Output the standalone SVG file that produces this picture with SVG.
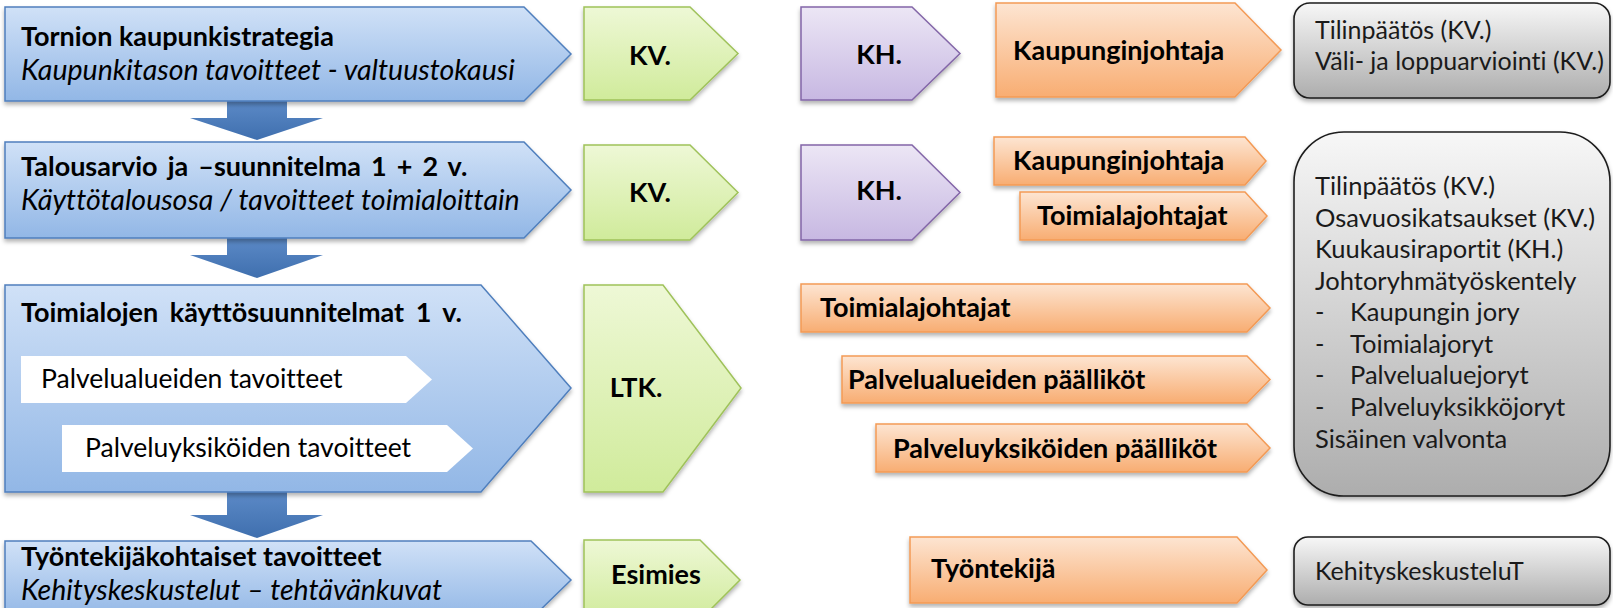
<svg xmlns="http://www.w3.org/2000/svg" width="1613" height="608" viewBox="0 0 1613 608">
<style>
text{font-family:Lato,"Liberation Sans",sans-serif;fill:#000;font-variant-ligatures:none;font-feature-settings:"liga" 0}
.b{font-weight:700;font-size:27px}
.i{font-style:italic;font-size:28.5px}
.r{font-size:26.5px}
.g{font-size:25px;fill:#1a1a1a}
.g2{font-size:25.5px;fill:#1a1a1a}
.blue{fill:url(#gBlue);stroke:#4f7fbd;stroke-width:1.5}
.green{fill:url(#gGreen);stroke:#9fc25a;stroke-width:1.5}
.purple{fill:url(#gPurple);stroke:#8366a8;stroke-width:1.5}
.orange{fill:url(#gOrange);stroke:#f39a55;stroke-width:1.5}
.gray{fill:url(#gGray);stroke:#1e1e1e;stroke-width:1.6}
.white{fill:#fff}
.down{fill:url(#gDown)}
.sh{filter:url(#shadow)}
</style>
<defs>
<linearGradient id="gBlue" x1="0" y1="0" x2="0" y2="1"><stop offset="0" stop-color="#d0e1f7"/><stop offset="1" stop-color="#92b7e6"/></linearGradient>
<linearGradient id="gGreen" x1="0" y1="0" x2="0" y2="1"><stop offset="0" stop-color="#eef8d6"/><stop offset="1" stop-color="#d0eb9b"/></linearGradient>
<linearGradient id="gPurple" x1="0" y1="0" x2="0" y2="1"><stop offset="0" stop-color="#ece6f5"/><stop offset="1" stop-color="#c7b8e2"/></linearGradient>
<linearGradient id="gOrange" x1="0" y1="0" x2="0" y2="1"><stop offset="0" stop-color="#fde5d2"/><stop offset="1" stop-color="#f8ad72"/></linearGradient>
<linearGradient id="gGray" x1="0" y1="0" x2="0" y2="1"><stop offset="0" stop-color="#f7f7f7"/><stop offset="1" stop-color="#adadad"/></linearGradient>
<linearGradient id="gDown" x1="0" y1="0" x2="0" y2="1"><stop offset="0" stop-color="#5d8bc8"/><stop offset="1" stop-color="#3f6fae"/></linearGradient>
<filter id="shadow" x="-5%" y="-10%" width="110%" height="130%"><feDropShadow dx="0" dy="3" stdDeviation="2" flood-color="#000" flood-opacity="0.3"/></filter>
</defs>

<g id="connectors">
<path class="down" d="M227,99 H287 V118 H323 L257,140 L190,118 H227 Z"/>
<path class="down" d="M227,236 H287 V255 H323 L257,278 L190,255 H227 Z"/>
<path class="down" d="M227,490 H287 V515 H323 L257,538 L190,515 H227 Z"/>
</g>

<g id="blue1">
<path class="blue sh" d="M5,7 H524 L571,54 L524,101 H5 Z"/>
<text class="b" x="21" y="46">Tornion kaupunkistrategia</text>
<text class="i" x="21" y="80">Kaupunkitason tavoitteet - valtuustokausi</text>
</g>
<g id="blue2">
<path class="blue sh" d="M5,142 H524 L571,190 L524,238 H5 Z"/>
<text class="b" x="21" y="176" word-spacing="3.5">Talousarvio ja –suunnitelma 1 + 2 v.</text>
<text class="i" x="21" y="210">Käyttötalousosa / tavoitteet toimialoittain</text>
</g>
<g id="blue3">
<path class="blue sh" d="M5,285 H481 L571,388 L481,492 H5 Z"/>
<text class="b" x="21" y="322" word-spacing="5">Toimialojen käyttösuunnitelmat 1 v.</text>
</g>
<g id="white1">
<path class="white" d="M21,356 H406 L432,379.5 L406,403 H21 Z"/>
<text class="r" x="41" y="388">Palvelualueiden tavoitteet</text>
</g>
<g id="white2">
<path class="white" d="M62,425 H447 L473,448.5 L447,472 H62 Z"/>
<text class="r" x="85" y="457">Palveluyksiköiden tavoitteet</text>
</g>
<g id="blue4">
<path class="blue sh" d="M5,541 H531 L571,580 L531,619 H5 Z"/>
<text class="b" x="21" y="566">Työntekijäkohtaiset tavoitteet</text>
<text class="i" x="21" y="600">Kehityskeskustelut – tehtävänkuvat</text>
</g>

<g id="green1">
<path class="green sh" d="M584,7 H690 L738,53.5 L690,100 H584 Z"/>
<text class="b" x="650" y="65" text-anchor="middle">KV.</text>
</g>
<g id="green2">
<path class="green sh" d="M584,145 H690 L738,192.5 L690,240 H584 Z"/>
<text class="b" x="650" y="202" text-anchor="middle">KV.</text>
</g>
<g id="green3">
<path class="green sh" d="M584,285 H663 L741,388 L663,492 H584 Z"/>
<text class="b" x="636" y="397" text-anchor="middle">LTK.</text>
</g>
<g id="green4">
<path class="green sh" d="M584,540 H700 L740,580 L700,620 H584 Z"/>
<text class="b" x="656" y="584" text-anchor="middle">Esimies</text>
</g>

<g id="purple1">
<path class="purple sh" d="M801,7 H912 L960,53.5 L912,100 H801 Z"/>
<text class="b" x="879" y="64" text-anchor="middle">KH.</text>
</g>
<g id="purple2">
<path class="purple sh" d="M801,145 H912 L960,192.5 L912,240 H801 Z"/>
<text class="b" x="879" y="200" text-anchor="middle">KH.</text>
</g>

<g id="orange1">
<path class="orange sh" d="M996,3 H1235 L1281,50 L1235,97 H996 Z"/>
<text class="b" x="1013" y="60">Kaupunginjohtaja</text>
</g>
<g id="orange2">
<path class="orange sh" d="M994,137 H1245 L1266,161 L1245,185 H994 Z"/>
<text class="b" x="1013" y="170">Kaupunginjohtaja</text>
</g>
<g id="orange3">
<path class="orange sh" d="M1020,192 H1245 L1267,216 L1245,240 H1020 Z"/>
<text class="b" x="1037" y="225">Toimialajohtajat</text>
</g>
<g id="orange4">
<path class="orange sh" d="M801,284 H1247 L1270,308 L1247,332 H801 Z"/>
<text class="b" x="820" y="317">Toimialajohtajat</text>
</g>
<g id="orange5">
<path class="orange sh" d="M842,356 H1247 L1270,379.5 L1247,403 H842 Z"/>
<text class="b" x="848" y="389">Palvelualueiden päälliköt</text>
</g>
<g id="orange6">
<path class="orange sh" d="M876,424 H1247 L1270,448 L1247,472 H876 Z"/>
<text class="b" x="893" y="458">Palveluyksiköiden päälliköt</text>
</g>
<g id="orange7">
<path class="orange sh" d="M910,537 H1237 L1267,570 L1237,603 H910 Z"/>
<text class="b" x="931" y="578">Työntekijä</text>
</g>

<g id="gray1">
<rect class="gray sh" x="1294" y="3" width="316" height="95" rx="16"/>
<text class="g" x="1315" y="39">Tilinpäätös (KV.)</text>
<text class="g" x="1315" y="70">Väli- ja loppuarviointi (KV.)</text>
</g>
<g id="gray2">
<rect class="gray sh" x="1294" y="132" width="316" height="364" rx="50"/>
<text class="g2" x="1315" y="195">Tilinpäätös (KV.)</text>
<text class="g2" x="1315" y="227">Osavuosikatsaukset (KV.)</text>
<text class="g2" x="1315" y="258">Kuukausiraportit (KH.)</text>
<text class="g2" x="1315" y="290">Johtoryhmätyöskentely</text>
<text class="g2" x="1315" y="321">-</text><text class="g2" x="1350" y="321">Kaupungin jory</text>
<text class="g2" x="1315" y="353">-</text><text class="g2" x="1350" y="353">Toimialajoryt</text>
<text class="g2" x="1315" y="384">-</text><text class="g2" x="1350" y="384">Palvelualuejoryt</text>
<text class="g2" x="1315" y="416">-</text><text class="g2" x="1350" y="416">Palveluyksikköjoryt</text>
<text class="g2" x="1315" y="448">Sisäinen valvonta</text>
</g>
<g id="gray3">
<rect class="gray sh" x="1294" y="537" width="316" height="68" rx="14"/>
<text class="g" x="1315" y="580">KehityskeskusteluT</text>
</g>
</svg>
